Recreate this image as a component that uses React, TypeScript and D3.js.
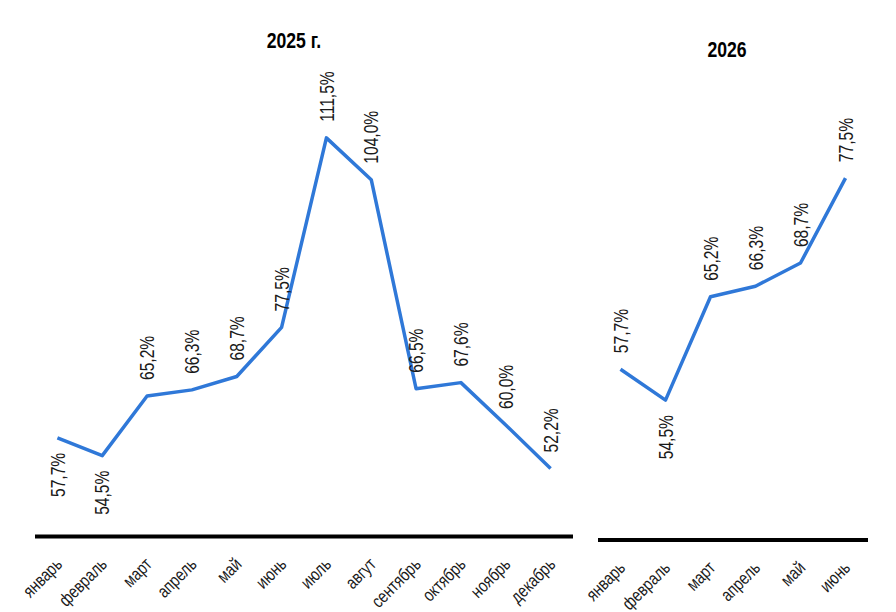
import * as d3 from "d3";

const months2025 = ["январь", "февраль", "март", "апрель", "май", "июнь", "июль", "авгут", "сентябрь", "октябрь", "ноябрь", "декабрь"];
const values2025 = [57.7, 54.5, 65.2, 66.3, 68.7, 77.5, 111.5, 104.0, 66.5, 67.6, 60.0, 52.2];
// which labels sit under the point
const below2025 = [true, true, false, false, false, false, false, false, false, false, false, false];

const months2026 = ["январь", "февраль", "март", "апрель", "май", "июнь"];
const values2026 = [57.7, 54.5, 65.2, 66.3, 68.7, 77.5];
const below2026 = [false, true, false, false, false, false];

const W = 896;
const H = 612;
// no narrow font installed: squeeze Liberation Sans instead
const FONT = "'Liberation Sans', Arial, sans-serif";
const NARROW = 0.8;
const BLUE = "#2f78d8";

const fmt = (v: number) => d3.format(".1f")(v).replace(".", ",") + "%";

type PanelProps = {
  title: string;
  titleX: number;
  titleY: number;
  months: string[];
  values: number[];
  below: boolean[];
  x0: number;
  x1: number;
  baseY: number;
  yDomain: [number, number];
  topY: number;
};

const Panel = ({ title, titleX, titleY, months, values, below, x0, x1, baseY, yDomain, topY }: PanelProps) => {
  const x = d3.scalePoint<string>().domain(months).range([x0, x1]).padding(0.5);
  const y = d3.scaleLinear().domain(yDomain).range([baseY, topY]);
  const line = d3
    .line<number>()
    .x((_, i) => x(months[i]) as number)
    .y((d) => y(d));

  return (
    <g>
      <text
        transform={`translate(${titleX},${titleY}) scale(${NARROW},1)`}
        textAnchor="middle"
        fontFamily={FONT}
        fontWeight="bold"
        fontSize={22}
        fill="#000"
      >
        {title}
      </text>
      <path d={line(values) ?? ""} fill="none" stroke={BLUE} strokeWidth={3.5} strokeLinejoin="round" />
      {values.map((v, i) => {
        const px = x(months[i]) as number;
        const py = y(v);
        const ly = below[i] ? py + 15 : py - 16;
        return (
          <text
            key={i}
            transform={`translate(${px},${ly}) rotate(-90) scale(0.78,1)`}
            textAnchor={below[i] ? "end" : "start"}
            dy="0.36em"
            fontFamily={FONT}
            fontSize={20}
            fill="#1a1a1a"
          >
            {fmt(v)}
          </text>
        );
      })}
      <line x1={x0} x2={x1} y1={baseY} y2={baseY} stroke="#000" strokeWidth={4} />
      {months.map((m) => (
        <text
          key={m}
          transform={`translate(${(x(m) as number) - 3},${baseY + 20}) rotate(-45) scale(${NARROW},1)`}
          textAnchor="end"
          dy="0.7em"
          fontFamily={FONT}
          fontSize={18}
          fill="#1a1a1a"
        >
          {m}
        </text>
      ))}
    </g>
  );
};

export default function App() {
  return (
    <svg width={W} height={H} style={{ display: "block", position: "absolute", left: 0, top: 0, background: "#fff" }}>
      <Panel
        title="2025 г."
        titleX={294}
        titleY={48}
        months={months2025}
        values={values2025}
        below={below2025}
        x0={35}
        x1={573}
        baseY={536.5}
        yDomain={[40, 130]}
        topY={34.7}
      />
      <Panel
        title="2026"
        titleX={727}
        titleY={57}
        months={months2026}
        values={values2026}
        below={below2026}
        x0={598}
        x1={868}
        baseY={540}
        yDomain={[40, 90]}
        topY={57.5}
      />
    </svg>
  );
}
